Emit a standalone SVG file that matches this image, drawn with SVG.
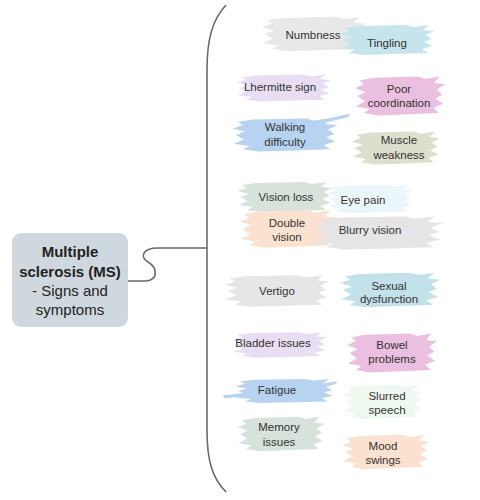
<svg xmlns="http://www.w3.org/2000/svg" xmlns:xlink="http://www.w3.org/1999/xlink" width="480" height="500" viewBox="0 0 480 500">
<style>
.t{font-family:"Liberation Sans",Arial,sans-serif;font-size:11.5px;fill:#333;text-anchor:middle}
.c{font-family:"Liberation Sans",Arial,sans-serif;font-size:15px;fill:#222;text-anchor:middle}
.b{font-weight:bold}
.ln{fill:none;stroke:#6b6b6b;stroke-width:1.6}
</style>
<defs>
<path id="brush" d="M-45,-12 L-30,-14 L20,-15 L28,-13 L44,-15 L38,-10 L50,-9 L41,-5 L47,-1 L39,2 L48,6 L37,9 L43,13 L10,14 L-25,15 L-40,13 L-34,10 L-49,8 L-39,4 L-47,0 L-38,-3 L-50,-6 L-40,-9 Z"/>
<path id="streak" d="M-50,4 L-10,-2 L30,-8 L50,-12 L48,-9 L20,-3 L-20,4 L-48,7 Z"/>
</defs>
<rect width="480" height="500" fill="#fff"/>
<g id="connectors">
<path class="ln" d="M226,5 C212,20 207,40 207,70 L207,430 C207,460 212,478 226,492"/>
<path class="ln" d="M128,281 L146,281 C158,280 158,268 148,262 C140,257 142,248 158,248 L207,248"/>
</g>
<g id="center">
<rect x="12" y="233" width="116" height="94" rx="9" fill="#cfd8de"/>
<text class="c b" x="70" y="257">Multiple</text>
<text class="c b" x="70" y="277">sclerosis (MS)</text>
<text class="c" x="70" y="296">- Signs and</text>
<text class="c" x="70" y="315">symptoms</text>
</g>
<g id="numbness">
<use xlink:href="#brush" transform="translate(314,34) scale(1.05,1.15)" fill="#e8e8e8"/>
<text class="t" x="313" y="39">Numbness</text>
</g>
<g id="tingling">
<use xlink:href="#brush" transform="translate(387,40) scale(0.95,1)" fill="#c6e4ec"/>
<text class="t" x="387" y="47">Tingling</text>
</g>
<g id="lhermitte">
<use xlink:href="#brush" transform="translate(284,88) scale(0.95,0.9)" fill="#e9ddf2"/>
<text class="t" x="280" y="91">Lhermitte sign</text>
</g>
<g id="poor-coordination">
<use xlink:href="#brush" transform="translate(400,96) scale(0.9,1.3)" fill="#ebbfe0"/>
<text class="t" x="399" y="93">Poor</text>
<text class="t" x="399" y="107">coordination</text>
</g>
<g id="walking">
<use xlink:href="#brush" transform="translate(285,135) scale(1.05,1.1)" fill="#b7d3f1"/>
<use xlink:href="#streak" transform="translate(295,128) scale(1.1,1.2)" fill="#b7d3f1"/>
<text class="t" x="285" y="131">Walking</text>
<text class="t" x="285" y="146">difficulty</text>
</g>
<g id="muscle-weakness">
<use xlink:href="#brush" transform="translate(396,148) scale(0.88,1.1)" fill="#dddfcd"/>
<text class="t" x="399" y="144">Muscle</text>
<text class="t" x="399" y="159">weakness</text>
</g>
<g id="eye-pain">
<use xlink:href="#brush" transform="translate(370,199) scale(0.86,0.95)" fill="#ebf6fa"/>
<text class="t" x="363" y="204">Eye pain</text>
</g>
<g id="vision-loss">
<use xlink:href="#brush" transform="translate(285,197) scale(0.95,1)" fill="#d6e2da"/>
<text class="t" x="286" y="201">Vision loss</text>
</g>
<g id="double-vision">
<use xlink:href="#brush" transform="translate(288,229) scale(0.97,1.25)" fill="#fbe1cf"/>
<text class="t" x="287" y="227">Double</text>
<text class="t" x="287" y="241">vision</text>
</g>
<g id="blurry-vision">
<use xlink:href="#brush" transform="translate(378,233) scale(1.3,1.1)" fill="#e5e5e5"/>
<text class="t" x="370" y="234">Blurry vision</text>
</g>
<g id="vertigo">
<use xlink:href="#brush" transform="translate(277,291) scale(1.05,1.05)" fill="#e6e6e6"/>
<text class="t" x="277" y="295">Vertigo</text>
</g>
<g id="sexual-dysfunction">
<use xlink:href="#brush" transform="translate(390,290) scale(1,1.15)" fill="#c3e1ea"/>
<text class="t" x="389" y="290">Sexual</text>
<text class="t" x="389" y="303">dysfunction</text>
</g>
<g id="bladder">
<use xlink:href="#brush" transform="translate(280,345) scale(0.95,0.85)" fill="#e9ddf2"/>
<text class="t" x="273" y="347">Bladder issues</text>
</g>
<g id="bowel">
<use xlink:href="#brush" transform="translate(392,353) scale(0.9,1.3)" fill="#ebbfe0"/>
<text class="t" x="392" y="349">Bowel</text>
<text class="t" x="392" y="363">problems</text>
</g>
<g id="fatigue">
<use xlink:href="#brush" transform="translate(285,391) scale(1,0.8)" fill="#b7d3f1"/>
<use xlink:href="#streak" transform="translate(280,392) scale(1.15,0.9)" fill="#b7d3f1"/>
<text class="t" x="277" y="394">Fatigue</text>
</g>
<g id="slurred-speech">
<use xlink:href="#brush" transform="translate(383,402) scale(0.8,1.15)" fill="#eff9ef"/>
<text class="t" x="387" y="400">Slurred</text>
<text class="t" x="387" y="414">speech</text>
</g>
<g id="memory">
<use xlink:href="#brush" transform="translate(281,434) scale(0.87,1.15)" fill="#d6e2da"/>
<text class="t" x="279" y="431">Memory</text>
<text class="t" x="279" y="446">issues</text>
</g>
<g id="mood-swings">
<use xlink:href="#brush" transform="translate(386,452) scale(0.87,1.15)" fill="#fbe1cf"/>
<text class="t" x="383" y="450">Mood</text>
<text class="t" x="383" y="464">swings</text>
</g>
</svg>
